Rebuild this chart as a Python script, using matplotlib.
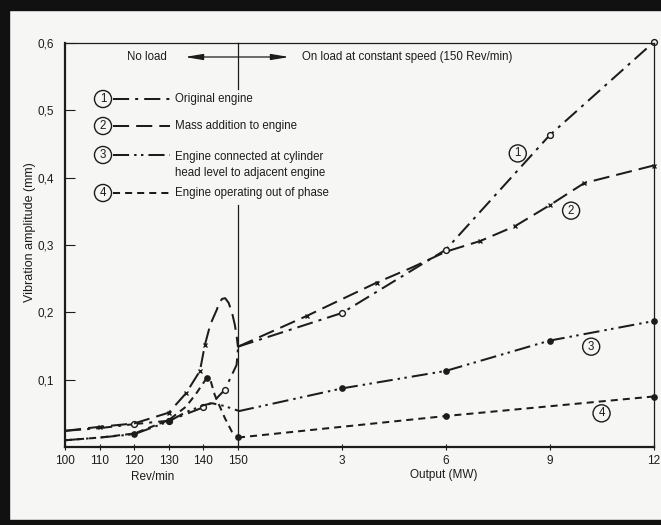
import matplotlib
matplotlib.use("Agg")
import matplotlib.pyplot as plt
from matplotlib.lines import Line2D
from matplotlib.patches import Rectangle, FancyArrowPatch

plt.rcParams['font.family'] = ['Liberation Sans', 'DejaVu Sans']

W, H = 661, 525
INK = '#1c1c1c'
PAPER = '#f6f6f4'

# ---- data: left part in Rev/min (no load), right part in MW (on load) ----
rev1 = [100, 110, 120, 130, 140, 143, 146.2, 149.6, 150]
amp1 = [0.024, 0.028, 0.034, 0.039, 0.059, 0.068, 0.085, 0.122, 0.147]
mw1 = [0, 3, 6, 9, 12]
out1 = [0.149, 0.199, 0.293, 0.463, 0.601]

rev2 = [100, 110, 120, 130, 135, 139, 140.4, 142, 143.8, 144.6, 145.4,
        146.3, 147.3, 148.3, 149.1, 149.6, 150]
amp2 = [0.024, 0.030, 0.035, 0.051, 0.080, 0.113, 0.151, 0.182, 0.203,
        0.214, 0.220, 0.221, 0.214, 0.199, 0.181, 0.165, 0.148]
mw2 = [0, 2, 4, 5, 6, 7, 8, 9, 10, 12]
out2 = [0.149, 0.195, 0.244, 0.266, 0.290, 0.306, 0.328, 0.359, 0.392, 0.418]

rev3 = [100, 110, 120, 130, 135, 140, 142.5, 146, 150]
amp3 = [0.010, 0.014, 0.019, 0.038, 0.052, 0.062, 0.065, 0.061, 0.054]
mw3 = [0, 3, 6, 9, 12]
out3 = [0.053, 0.087, 0.113, 0.158, 0.187]

rev4 = [100, 110, 120, 130, 135, 138, 140.9, 142, 143.3, 146.2, 148.2, 150]
amp4 = [0.010, 0.014, 0.020, 0.040, 0.060, 0.080, 0.102, 0.100, 0.077,
        0.043, 0.023, 0.015]
mw4 = [0, 6, 12]
out4 = [0.014, 0.046, 0.075]

rev_ticks = [100, 110, 120, 130, 140, 150]
mw_ticks = [3, 6, 9, 12]
amp_ticks = [0.1, 0.2, 0.3, 0.4, 0.5, 0.6]
amp_labels = ['0,1', '0,2', '0,3', '0,4', '0,5', '0,6']

legend_labels = ['Original engine', 'Mass addition to engine',
                 'Engine connected at cylinder\nhead level to adjacent engine',
                 'Engine operating out of phase']

styles = [
    (0, (8, 3, 1.5, 3)),
    (0, (8, 3.5)),
    (0, (8, 2.5, 1.2, 2.2, 1.2, 2.5)),
    (0, (3.5, 2.5)),
]


def px(x, y):
    return x / W, 1 - y / H


fig = plt.figure(figsize=(W / 100, H / 100), dpi=100, facecolor=PAPER)

# scanned page border
for r in [Rectangle((0, 1 - 10 / H), 1, 10 / H),
          Rectangle((0, 0), 9 / W, 1),
          Rectangle((0, 0), 1, 5 / H)]:
    r.set_transform(fig.transFigure)
    r.set_color('#111111')
    fig.patches.append(r)

x0, x1, x2 = 65, 238, 653.5
ytop, ybot = 43, 447
axL = fig.add_axes([x0 / W, 1 - ybot / H, (x1 - x0) / W, (ybot - ytop) / H])
axR = fig.add_axes([x1 / W, 1 - ybot / H, (x2 - x1) / W, (ybot - ytop) / H])

for ax in (axL, axR):
    ax.set_facecolor('none')
    ax.set_ylim(0, 0.6)
    for s in ax.spines.values():
        s.set_color(INK)
        s.set_linewidth(0.9)
    ax.tick_params(axis='x', direction='inout', length=5, width=0.8,
                   colors=INK, labelsize=8.5, pad=3)
    ax.spines['bottom'].set_linewidth(1.6)

axL.set_xlim(100, 150)
axR.set_xlim(0, 12)
axL.spines['right'].set_visible(False)
axL.spines['left'].set_linewidth(1.6)
axR.spines['left'].set_visible(False)

axL.set_xticks(rev_ticks)
axR.set_xticks(mw_ticks)
axL.set_yticks(amp_ticks)
axL.set_yticklabels(amp_labels)
axL.tick_params(axis='y', direction='in', length=7, width=0.8, colors=INK,
                labelsize=8.5, pad=8)
axR.set_yticks([])

# divider at 150 Rev/min / 0 MW, broken around the key
axR.axvline(0, ymin=0, ymax=0.60, color=INK, lw=0.9, clip_on=False)
axR.axvline(0, ymin=0.885, ymax=1, color=INK, lw=0.9, clip_on=False)

lw = 1.45
kw = dict(color=INK, lw=lw, clip_on=False)
# 1: original engine, open circles
axL.plot(rev1, amp1, ls=styles[0], marker='o', ms=4.2, mfc=PAPER, mew=1,
         markevery=[2, 3, 4, 6], **kw)
axR.plot(mw1, out1, ls=styles[0], marker='o', ms=4.2, mfc=PAPER, mew=1,
         markevery=[1, 2, 3, 4], **kw)
# 2: mass addition, crosses
axL.plot(rev2, amp2, ls=styles[1], marker='x', ms=3.5, mew=1,
         markevery=[1, 3, 4, 5, 6], **kw)
axR.plot(mw2, out2, ls=styles[1], marker='x', ms=3.5, mew=1,
         markevery=[1, 2, 5, 6, 7, 8, 9], **kw)
# 3: connected to adjacent engine, dots
axL.plot(rev3, amp3, ls=styles[2], marker='o', ms=3.8,
         markevery=[2, 3], **kw)
axR.plot(mw3, out3, ls=styles[2], marker='o', ms=3.8,
         markevery=[1, 2, 3, 4], **kw)
# 4: out of phase, dots
axL.plot(rev4, amp4, ls=styles[3], marker='o', ms=3.8,
         markevery=[6, 11], **kw)
axR.plot(mw4, out4, ls=styles[3], marker='o', ms=3.8,
         markevery=[1, 2], **kw)

circ = dict(boxstyle='circle,pad=0.22', fc=PAPER, ec=INK, lw=1)
tkw = dict(fontsize=8.3, color=INK, va='center')

# curve tags
for n, (tx, ty) in enumerate([(8.08, 0.436), (9.62, 0.351),
                               (10.2, 0.149), (10.5, 0.050)], start=1):
    axR.text(tx, ty, str(n), ha='center', bbox=circ, **tkw)

# key
key_y = [99, 126, 155, 193]
for i, (yy, lab) in enumerate(zip(key_y, legend_labels)):
    fig.text(*px(103, yy), str(i + 1), ha='center', bbox=circ, **tkw)
    fig.add_artist(Line2D([113 / W, 170 / W], [1 - yy / H] * 2,
                          transform=fig.transFigure, color=INK, lw=lw,
                          ls=styles[i]))
    ty = yy + 10 if '\n' in lab else yy
    fig.text(*px(175, ty), lab, ha='left', linespacing=1.55, **tkw)

# load-condition arrow
fig.text(*px(127, 57), 'No load', ha='left', **tkw)
fig.text(*px(302, 57), 'On load at constant speed (150 Rev/min)',
         ha='left', **tkw)
fig.add_artist(FancyArrowPatch(px(182, 57), px(292, 57),
                               transform=fig.transFigure,
                               arrowstyle='<|-|>,head_length=0.9,head_width=0.15',
                               mutation_scale=12, color=INK, lw=0.9))

# axis titles
fig.text(*px(30, 232), 'Vibration amplitude (mm)', rotation=90,
         ha='center', va='center', fontsize=9, color=INK)
fig.text(*px(153, 477), 'Rev/min', ha='center', va='center',
         fontsize=8.5, color=INK)
fig.text(*px(444, 475), 'Output (MW)', ha='center', va='center',
         fontsize=8.5, color=INK)

fig.savefig('out.png', dpi=100, facecolor=PAPER)
